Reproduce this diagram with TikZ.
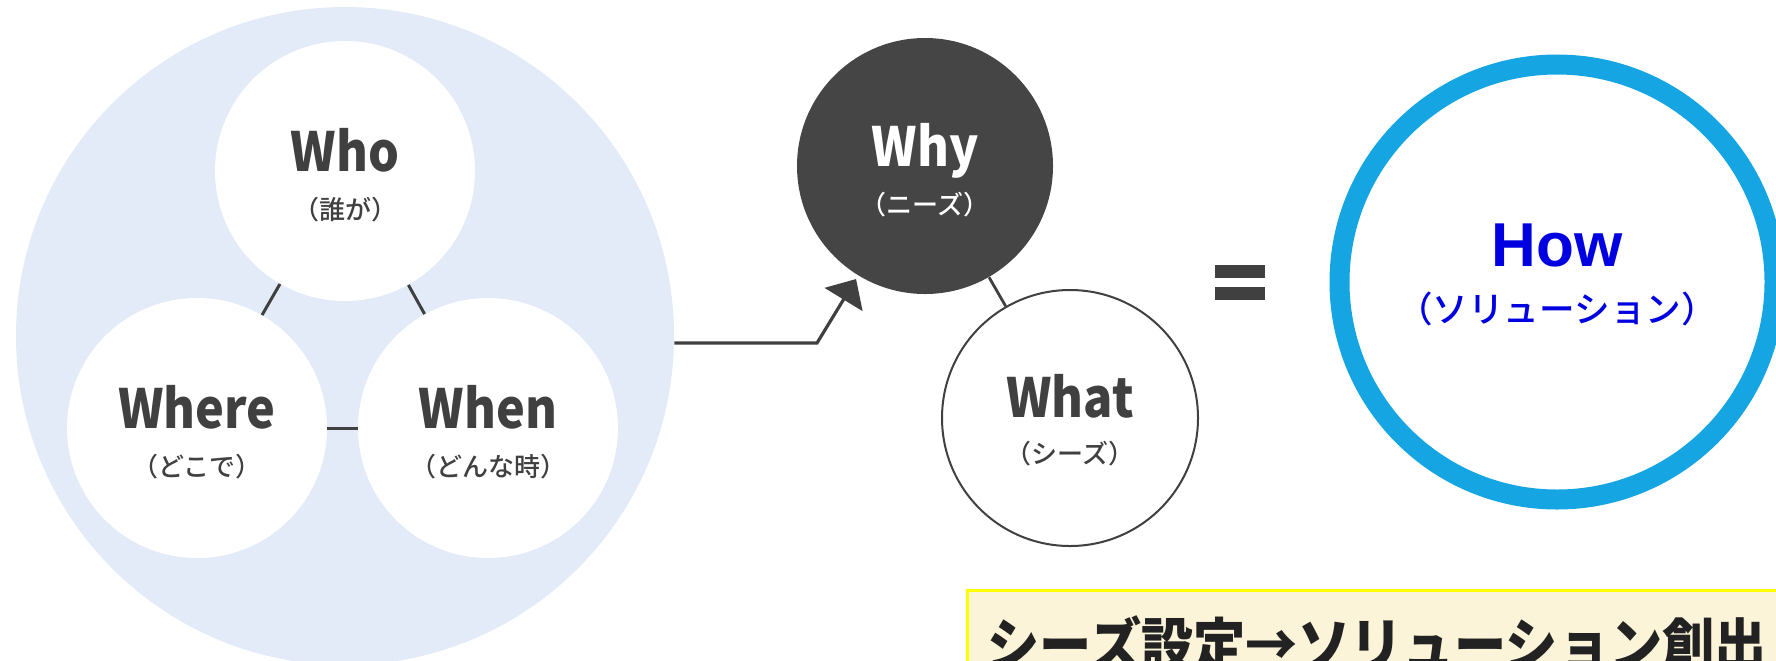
\documentclass[tikz,border=0pt]{standalone}
\usepackage{fontspec}
\setmainfont{Liberation Sans}
\newfontfamily\jp{Noto Sans CJK JP}
\newfontfamily\jpc{Noto Sans CJK JP}[FakeStretch=0.9]
\newfontfamily\jpm{Noto Sans CJK JP Medium}
\usetikzlibrary{arrows.meta}
\definecolor{bigblue}{HTML}{E3EAF8}
\definecolor{ink}{HTML}{404040}
\definecolor{whyfill}{HTML}{454545}
\definecolor{ringblue}{HTML}{16A5E3}
\definecolor{howblue}{HTML}{0000E0}
\definecolor{boxfill}{HTML}{FCF4D8}
\definecolor{boxline}{HTML}{FFFF00}
\definecolor{boxtext}{HTML}{222222}
\begin{document}
\begin{tikzpicture}[x=0.5pt,y=-0.5pt,
  wcirc/.style={circle, inner sep=0pt, fill=white, minimum size=130pt},
  lat/.style={anchor=base, inner sep=0pt, font=\jpc\bfseries\fontsize{27}{27}\selectfont, text=ink},
  sub/.style={anchor=base, inner sep=0pt, font=\jpm\fontsize{13}{13}\selectfont, text=ink},
  tick/.style={draw=ink, line width=1.5pt},
  flow/.style={draw=ink, line width=1.6pt, -{Triangle[length=12pt,width=22pt]}, shorten >=2pt}
]
\useasboundingbox (0,0) rectangle (1776,660);
\clip (0,0) rectangle (1776,660);

% left cluster
\node[circle, inner sep=0pt, fill=bigblue, minimum size=329pt] (big) at (345,336) {};
\node[wcirc] (who) at (345,171) {};
\node[wcirc] (where) at (197,428) {};
\node[wcirc] (when) at (488,428) {};
\draw[tick] (who) -- (where);
\draw[tick] (who) -- (when);
\draw[tick] (where) -- (when);
\node[lat] (whoT) at (345,171) {Who};
\node[sub] (whoS) at (345,219) {（誰が）};
\node[lat] (whereT) at (197,428) {Where};
\node[sub] (whereS) at (197,476) {（どこで）};
\node[lat] (whenT) at (488,428) {When};
\node[sub] (whenS) at (488,476) {（どんな時）};

% why / what
\node[circle, inner sep=0pt, fill=whyfill, minimum size=128pt] (why) at (925,166) {};
\node[circle, inner sep=0pt, fill=white, draw=ink, line width=1pt, minimum size=128pt] (what) at (1070,418) {};
\draw[tick, line width=1.4pt] (why) -- (what);
\node[lat, text=white] (whyT) at (925,166) {Why};
\node[sub, text=white] (whyS) at (925,214) {（ニーズ）};
\node[lat] (whatT) at (1070,417) {What};
\node[sub] (whatS) at (1070,463) {（シーズ）};

% arrow
\coordinate (bend) at (817,343);
\draw[flow] (bend -| big.east) -- (bend) -- (why);

% equals
\fill[ink] (1215,265) rectangle (1265,278);
\fill[ink] (1215,287) rectangle (1265,300);

% how
\node[circle, inner sep=0pt, fill=white, draw=ringblue, line width=10pt, minimum size=217.5pt] (how) at (1557,282) {};
\node[anchor=base, inner sep=0pt, font=\bfseries\fontsize{31}{31}\selectfont, text=howblue] (howT) at (1557,266) {How};
\node[anchor=base, inner sep=0pt, font=\jpm\fontsize{17.8}{17.8}\selectfont, text=howblue] (howS) at (1557,322) {（ソリューション）};

% summary box
\node[draw=boxline, fill=boxfill, line width=1.5pt, anchor=north west, minimum width=420pt, minimum height=60pt, inner sep=0pt] (box) at (966,589) {};
\node[anchor=base west, inner sep=0pt, font=\jpc\bfseries\fontsize{29}{29}\selectfont, text=boxtext] (boxT) at (987,666) {シーズ設定→ソリューション創出};
\end{tikzpicture}
\end{document}
